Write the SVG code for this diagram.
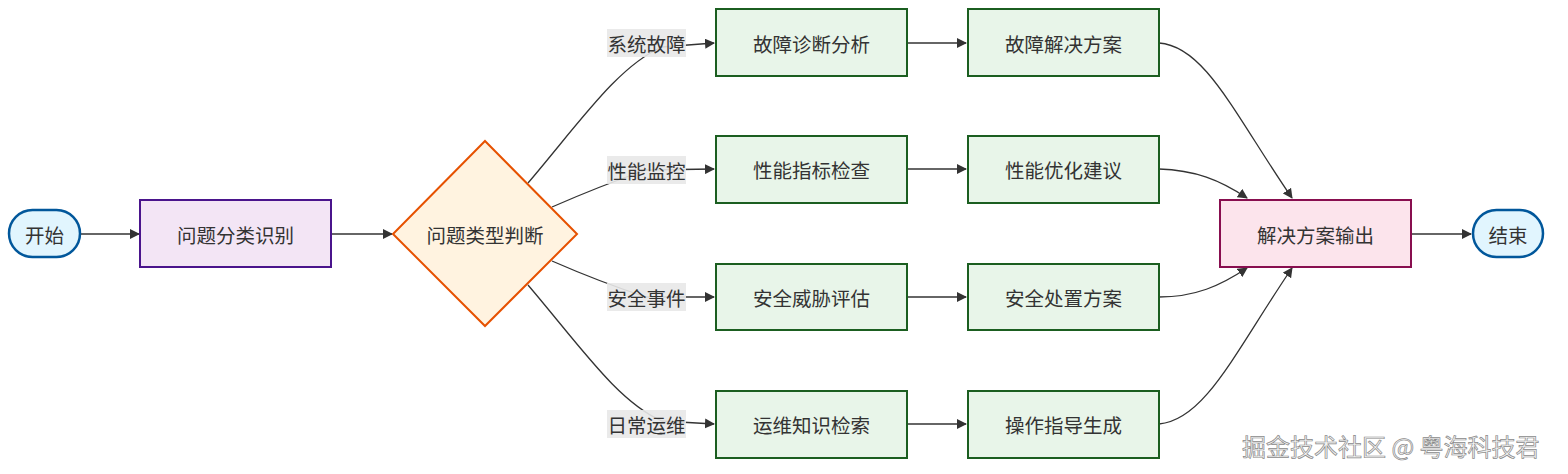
<svg xmlns="http://www.w3.org/2000/svg" width="1568" height="474" viewBox="0 0 1568 474">
<defs>
<marker id="arr" viewBox="0 0 10 10" refX="9" refY="5" markerWidth="10" markerHeight="10" markerUnits="userSpaceOnUse" orient="auto">
<path d="M0,0 L10,5 L0,10 z" fill="#333"/>
</marker>
</defs>
<style>
text{font-family:"Noto Sans CJK SC","Noto Sans",sans-serif;font-size:19.5px;fill:#333;text-anchor:middle;dominant-baseline:central}
.term{fill:#e1f5fe;stroke:#01579b;stroke-width:2.5}
.proc{fill:#f3e5f5;stroke:#4a148c;stroke-width:2}
.dec{fill:#fff3e0;stroke:#e65100;stroke-width:2}
.step{fill:#e8f5e9;stroke:#1b5e20;stroke-width:2}
.out{fill:#fce4ec;stroke:#880e4f;stroke-width:2}
.edge{fill:none;stroke:#333;stroke-width:1.3;marker-end:url(#arr)}
.lbl{fill:#e8e8e8;opacity:0.9}
.wm{font-size:24px;fill:#f4f4f4;stroke:#8a8a8a;stroke-width:0.7;text-anchor:start}
</style>
<rect width="1568" height="474" fill="#fff"/>
<g id="connectors">
<path class="edge" d="M80,234 L139,234"/>
<path class="edge" d="M332,234 L392,234"/>
<path class="edge" d="M528,183 C580,122 618,66 662,47 L714,43"/>
<path class="edge" d="M552,207 Q600,186 646,170 L714,169"/>
<path class="edge" d="M552,261 Q600,282 646,297 L714,297"/>
<path class="edge" d="M528,285 C580,346 618,402 662,421 L714,424"/>
<path class="edge" d="M907,43 L966,43"/>
<path class="edge" d="M907,169 L966,169"/>
<path class="edge" d="M907,297 L966,297"/>
<path class="edge" d="M907,424 L966,424"/>
<path class="edge" d="M1159,43 C1205,46 1235,115 1292,198"/>
<path class="edge" d="M1159,169 C1195,170 1220,180 1247,198"/>
<path class="edge" d="M1159,297 C1195,297 1220,286 1247,268"/>
<path class="edge" d="M1159,424 C1205,420 1235,352 1292,268"/>
<path class="edge" d="M1411,234 L1471,234"/>
</g>
<g id="edge-labels">
<rect class="lbl" x="607" y="29" width="79" height="28"/><text x="646.5" y="43">系统故障</text>
<rect class="lbl" x="607" y="156" width="79" height="28"/><text x="646.5" y="170">性能监控</text>
<rect class="lbl" x="607" y="283" width="79" height="28"/><text x="646.5" y="297">安全事件</text>
<rect class="lbl" x="607" y="410" width="79" height="28"/><text x="646.5" y="424">日常运维</text>
</g>
<g id="start"><rect class="term" x="9" y="210" width="71" height="47" rx="23.5"/><text x="44.5" y="234">开始</text></g>
<g id="classify"><rect class="proc" x="140" y="200" width="191" height="67"/><text x="235.5" y="234">问题分类识别</text></g>
<g id="decision"><polygon class="dec" points="485,141 577,234 485,326 393,234"/><text x="485" y="234">问题类型判断</text></g>
<g id="diag"><rect class="step" x="716" y="9" width="191" height="67"/><text x="811.5" y="43">故障诊断分析</text></g>
<g id="perfcheck"><rect class="step" x="716" y="136" width="191" height="67"/><text x="811.5" y="169">性能指标检查</text></g>
<g id="threat"><rect class="step" x="716" y="264" width="191" height="66"/><text x="811.5" y="297">安全威胁评估</text></g>
<g id="kb"><rect class="step" x="716" y="391" width="191" height="67"/><text x="811.5" y="424">运维知识检索</text></g>
<g id="fix"><rect class="step" x="968" y="9" width="191" height="67"/><text x="1063.5" y="43">故障解决方案</text></g>
<g id="perfopt"><rect class="step" x="968" y="136" width="191" height="67"/><text x="1063.5" y="169">性能优化建议</text></g>
<g id="secplan"><rect class="step" x="968" y="264" width="191" height="66"/><text x="1063.5" y="297">安全处置方案</text></g>
<g id="guide"><rect class="step" x="968" y="391" width="191" height="67"/><text x="1063.5" y="424">操作指导生成</text></g>
<g id="output"><rect class="out" x="1220" y="200" width="191" height="67"/><text x="1315.5" y="234">解决方案输出</text></g>
<g id="end"><rect class="term" x="1473" y="210" width="70" height="47" rx="23.5"/><text x="1508" y="234">结束</text></g>
<text class="wm" x="1242" y="445">掘金技术社区 @ 粤海科技君</text>
</svg>
